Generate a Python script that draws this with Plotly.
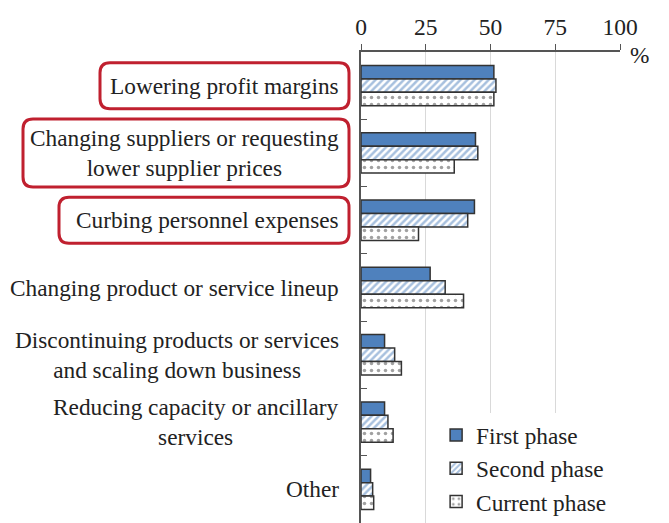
import plotly.graph_objects as go

# Survey: measures taken in response to rising costs (%)
categories = [
    "Lowering profit margins",
    "Changing suppliers or requesting<br>lower supplier prices",
    "Curbing personnel expenses",
    "Changing product or service lineup",
    "Discontinuing products or services<br>and scaling down business",
    "Reducing capacity or ancillary<br>services",
    "Other",
]
first_phase = [51.3, 44.2, 43.8, 26.7, 9.1, 9.1, 3.7]
second_phase = [52.1, 45.1, 41.2, 32.5, 13.0, 10.4, 4.5]
current_phase = [51.3, 36.0, 22.2, 39.6, 15.6, 12.4, 4.9]
highlighted = [0, 1, 2]

FONT = "Liberation Serif"
FS = 23.3
BLUE = "#4F81BD"
EDGE = "#333333"
RED = "#C0202F"

# the page has an 8px body margin, so the figure is sized to fit inside it
W, H = 661, 515
L, T, R, B = 353, 44, 49, 0
PW, PH = W - L - R, H - T - B

fig = go.Figure()
fig.add_trace(go.Bar(
    name="First phase", y=categories, x=first_phase, orientation="h",
    marker=dict(color=BLUE, line=dict(color=EDGE, width=1.5)),
    legendgroup="a"))
fig.add_trace(go.Bar(
    name="Second phase", y=categories, x=second_phase, orientation="h",
    marker=dict(color="white", line=dict(color=EDGE, width=1.5),
                pattern=dict(shape="/", fgcolor=BLUE, bgcolor="white",
                             size=5, solidity=0.5)),
    legendgroup="b"))
fig.add_trace(go.Bar(
    name="Current phase", y=categories, x=current_phase, orientation="h",
    marker=dict(color="white", line=dict(color=EDGE, width=1.5),
                pattern=dict(shape=".", fgcolor="#444444", bgcolor="white",
                             size=7, solidity=0.2)),
    legendgroup="c"))

# category labels as annotations so multi-line text is centred
for i, c in enumerate(categories):
    fig.add_annotation(x=0, y=c, xref="x", yref="y", text=c, showarrow=False,
                       xanchor="right", align="center", xshift=-20,
                       font=dict(family=FONT, size=FS, color="#222"))

# rounded red boxes round the highlighted labels (pixel offsets from axis)
box_w = [249, 326, 290]
box_h = [46, 68, 46]
n = len(categories)
for k, i in enumerate(highlighted):
    yc = 1 - (i + 0.5) / n
    x1 = -12 / PW
    x0 = x1 - box_w[k] / PW
    y0 = yc - box_h[k] / 2 / PH
    y1 = yc + box_h[k] / 2 / PH
    rx, ry = 10 / PW, 10 / PH
    path = (f"M {x0 + rx},{y0} L {x1 - rx},{y0} Q {x1},{y0} {x1},{y0 + ry} "
            f"L {x1},{y1 - ry} Q {x1},{y1} {x1 - rx},{y1} L {x0 + rx},{y1} "
            f"Q {x0},{y1} {x0},{y1 - ry} L {x0},{y0 + ry} Q {x0},{y0} {x0 + rx},{y0} Z")
    fig.add_shape(type="path", path=path, xref="paper", yref="paper",
                  line=dict(color=RED, width=3), layer="above")

fig.add_annotation(x=1, y=1, xref="paper", yref="paper", text="%",
                   showarrow=False, xanchor="left", yanchor="top",
                   xshift=8, yshift=12,
                   font=dict(family=FONT, size=FS, color="#222"))

fig.update_layout(
    width=W, height=H,
    margin=dict(l=L, r=R, t=T, b=B, autoexpand=False),
    paper_bgcolor="white", plot_bgcolor="white",
    barmode="group", bargap=0.4, bargroupgap=0,
    font=dict(family=FONT, size=FS, color="#222"),
    showlegend=True,
    legend=dict(x=0.29, y=0.233, xanchor="left", yanchor="top",
                bgcolor="white", tracegroupgap=10, traceorder="normal",
                font=dict(family=FONT, size=FS, color="#222"),
                itemwidth=30),
    xaxis=dict(side="top", range=[0, 100], dtick=25, showgrid=True,
               gridcolor="#d9d9d9", gridwidth=1, showline=True,
               linecolor="#555", linewidth=1.5, ticks="outside", ticklen=6,
               tickcolor="#555", zeroline=False,
               tickfont=dict(family=FONT, size=23.5, color="#222")),
    yaxis=dict(autorange="reversed", showticklabels=False, showline=True,
               linecolor="#555", linewidth=2, ticks="inside", ticklen=6,
               tickcolor="#555", tickson="boundaries", showgrid=False),
)

fig.write_html("out.html")
